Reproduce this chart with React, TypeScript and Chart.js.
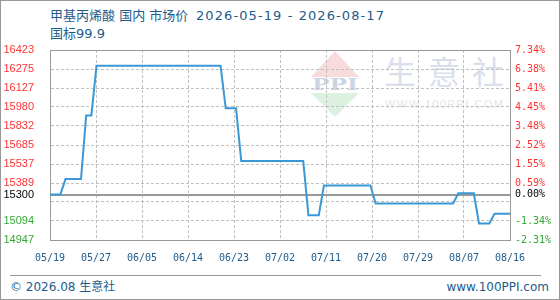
import React, { useEffect, useRef } from "react";
import { Chart, registerables } from "chart.js";

Chart.register(...registerables);

// Header / footer text
const titleName = "甲基丙烯酸 国内 市场价";
const titleRange = "2026-05-19 - 2026-08-17";
const subtitleText = "国标99.9";
const footerLeft = "© 2026.08 生意社";
const footerRight = "www.100PPI.com";

// Daily price, 05/19 .. 08/16 (one value per day)
const prices: number[] = [
  15300, 15300, 15300,
  15420, 15420, 15420, 15420,
  15915, 15915,
  16300, 16300, 16300, 16300, 16300, 16300, 16300, 16300, 16300, 16300,
  16300, 16300, 16300, 16300, 16300, 16300, 16300, 16300, 16300, 16300,
  16300, 16300, 16300, 16300, 16300,
  15970, 15970, 15970,
  15560, 15560, 15560, 15560, 15560, 15560, 15560, 15560, 15560, 15560,
  15560, 15560, 15560,
  15140, 15140, 15140,
  15370, 15370, 15370, 15370, 15370, 15370, 15370, 15370, 15370, 15370,
  15230, 15230, 15230, 15230, 15230, 15230, 15230, 15230, 15230, 15230,
  15230, 15230, 15230, 15230, 15230, 15230,
  15310, 15310, 15310, 15310,
  15075, 15075, 15075,
  15150, 15150, 15150, 15150,
];

// Reference price for the percentage axis
const basePrice = 15300;

// Horizontal axis: tick positions (day offsets) and their labels
const xTickDays = [0, 8.9, 17.8, 26.7, 35.6, 44.5, 53.4, 62.3, 71.2, 80.1, 89];
const xTickLabels = ["05/19", "05/27", "06/05", "06/14", "06/23", "07/02", "07/11", "07/20", "07/29", "08/07", "08/16"];

// Vertical axis: tick values with price and percentage labels
const yMin = 14947;
const yMax = 16423;
const yTickValues = [14947, 15094.6, 15242.2, 15300, 15389.8, 15537.4, 15685, 15832.6, 15980.2, 16127.8, 16275.4, 16423];
const yTickLabels = ["14947", "15094", "", "15300", "15389", "15537", "15685", "15832", "15980", "16127", "16275", "16423"];
const pctTickLabels = ["-2.31%", "-1.34%", "", "0.00%", "0.59%", "1.55%", "2.52%", "3.48%", "4.45%", "5.41%", "6.38%", "7.34%"];

const UP = "#ff3333";
const DOWN = "#33a833";
const FLAT = "#000000";
const TEXT_BLUE = "#1d5b8c";
const AXIS_GRAY = "#999999";
const GRID_GRAY = "#c0c0c0";
const GRID_DASH = [3, 2];

const tickColor = (ctx: any) => {
  const v = ctx.tick ? ctx.tick.value : basePrice;
  if (Math.abs(v - basePrice) < 0.01) return FLAT;
  return v > basePrice ? UP : DOWN;
};

function Backdrop() {
  const headFont = "'DejaVu Sans', 'Noto Sans CJK SC', sans-serif";
  return (
    <svg
      width={560}
      height={300}
      style={{ position: "absolute", left: 0, top: 0 }}
    >
      <rect x={0.5} y={0.5} width={559} height={299} fill="#ffffff" stroke="#999999" />
      {/* watermark */}
      <polygon points="335,51 311,77 359,77" fill="#f8dcdc" />
      <text x={335} y={90} textAnchor="middle" fontFamily="'DejaVu Serif', serif" fontWeight="bold" fontSize={17} fill="#cdd5e4" textLength={46} lengthAdjust="spacingAndGlyphs">PPI</text>
      <polygon points="311,93 359,93 335,117" fill="#dcf1df" />
      <text x={444} y={84} textAnchor="middle" fontFamily="'Noto Sans CJK SC', sans-serif" fontSize={32} fill="#dae0eb" textLength={120} lengthAdjust="spacing">生意社</text>
      <text x={444} y={108} textAnchor="middle" fontFamily="'Liberation Sans', Arial, sans-serif" fontSize={11} fill="#e4e4e4" textLength={118} lengthAdjust="spacing">WWW.100PPI.COM</text>
      {/* header */}
      <text x={50} y={20} fontFamily={headFont} fontSize={13} fill={TEXT_BLUE}>{titleName}</text>
      <text x={196} y={20} fontFamily={headFont} fontSize={13} fill={TEXT_BLUE} textLength={188} lengthAdjust="spacing">{titleRange}</text>
      <text x={50} y={38} fontFamily={headFont} fontSize={13} fill={TEXT_BLUE}>{subtitleText}</text>
      {/* footer */}
      <line x1={10} y1={275.5} x2={541} y2={275.5} stroke="#999999" strokeWidth={1} />
      <text x={10} y={291} fontFamily={headFont} fontSize={12} fill={TEXT_BLUE}>{footerLeft}</text>
      <text x={549} y={291} textAnchor="end" fontFamily="'DejaVu Sans', sans-serif" fontSize={12} fill={TEXT_BLUE}>{footerRight}</text>
    </svg>
  );
}

export default function App() {
  const canvasRef = useRef<HTMLCanvasElement | null>(null);

  useEffect(() => {
    const canvas = canvasRef.current;
    if (!canvas) return;

    const yTicksFor = (scale: any) => {
      scale.ticks = yTickValues.map((v) => ({ value: v }));
    };

    const chart = new Chart(canvas, {
      type: "line",
      data: {
        datasets: [
          {
            data: prices.map((y, i) => ({ x: i, y })),
            borderColor: "#3a98d6",
            borderWidth: 2,
            pointRadius: 0,
            tension: 0,
            fill: false,
            yAxisID: "y",
          },
        ],
      },
      options: {
        animation: false,
        responsive: false,
        maintainAspectRatio: false,
        layout: { padding: { top: 50, left: 0, right: 0, bottom: 0 } },
        plugins: {
          legend: { display: false },
          tooltip: { enabled: false },
        },
        scales: {
          x: {
            type: "linear",
            min: 0,
            max: 89,
            position: "bottom",
            afterBuildTicks: (s: any) => {
              s.ticks = xTickDays.map((v) => ({ value: v }));
            },
            afterFit: (s: any) => {
              s.height = 60;
            },
            ticks: {
              autoSkip: false,
              maxRotation: 0,
              padding: 12,
              color: TEXT_BLUE,
              font: { family: "'DejaVu Sans Mono', monospace", size: 10 },
              callback: (_v: any, i: number) => xTickLabels[i],
            },
            grid: {
              drawTicks: false,
              lineWidth: 1,
              color: (ctx: any) =>
                ctx.index === 0 || ctx.index === xTickDays.length - 1 ? "rgba(0,0,0,0)" : GRID_GRAY,
            },
            border: { display: true, color: AXIS_GRAY, width: 1, dash: GRID_DASH },
          },
          y: {
            type: "linear",
            position: "left",
            min: yMin,
            max: yMax,
            afterBuildTicks: yTicksFor,
            afterFit: (s: any) => {
              s.width = 50;
            },
            ticks: {
              autoSkip: false,
              padding: 16,
              color: tickColor,
              font: { family: "'Liberation Sans', Arial, sans-serif", size: 11 },
              callback: (_v: any, i: number) => yTickLabels[i],
            },
            grid: {
              drawTicks: false,
              color: (ctx: any) => {
                const v = ctx.tick ? ctx.tick.value : 0;
                if (v === yMin) return "rgba(0,0,0,0)";
                if (v === yMax || v === basePrice) return AXIS_GRAY;
                return GRID_GRAY;
              },
              lineWidth: (ctx: any) => (ctx.tick && ctx.tick.value === basePrice ? 2 : 1),
            },
            border: {
              display: true,
              color: AXIS_GRAY,
              width: 1,
              dash: (ctx: any) => {
                const v = ctx.tick ? ctx.tick.value : null;
                if (v === null || v === yMax || v === basePrice) return [];
                return GRID_DASH;
              },
            },
          },
          y2: {
            type: "linear",
            position: "right",
            min: yMin,
            max: yMax,
            afterBuildTicks: yTicksFor,
            afterFit: (s: any) => {
              s.width = 50;
            },
            ticks: {
              autoSkip: false,
              padding: 5,
              color: tickColor,
              font: { family: "'DejaVu Sans Mono', monospace", size: 10 },
              callback: (_v: any, i: number) => pctTickLabels[i],
            },
            grid: { display: false, drawTicks: false },
            border: { display: true, color: AXIS_GRAY, width: 1 },
          },
        },
      } as any,
    });

    return () => chart.destroy();
  }, []);

  return (
    <div style={{ position: "fixed", left: 0, top: 0, width: 560, height: 300 }}>
      <Backdrop />
      <canvas
        ref={canvasRef}
        width={560}
        height={300}
        style={{ position: "absolute", left: 0, top: 0, width: 560, height: 300 }}
      />
    </div>
  );
}
